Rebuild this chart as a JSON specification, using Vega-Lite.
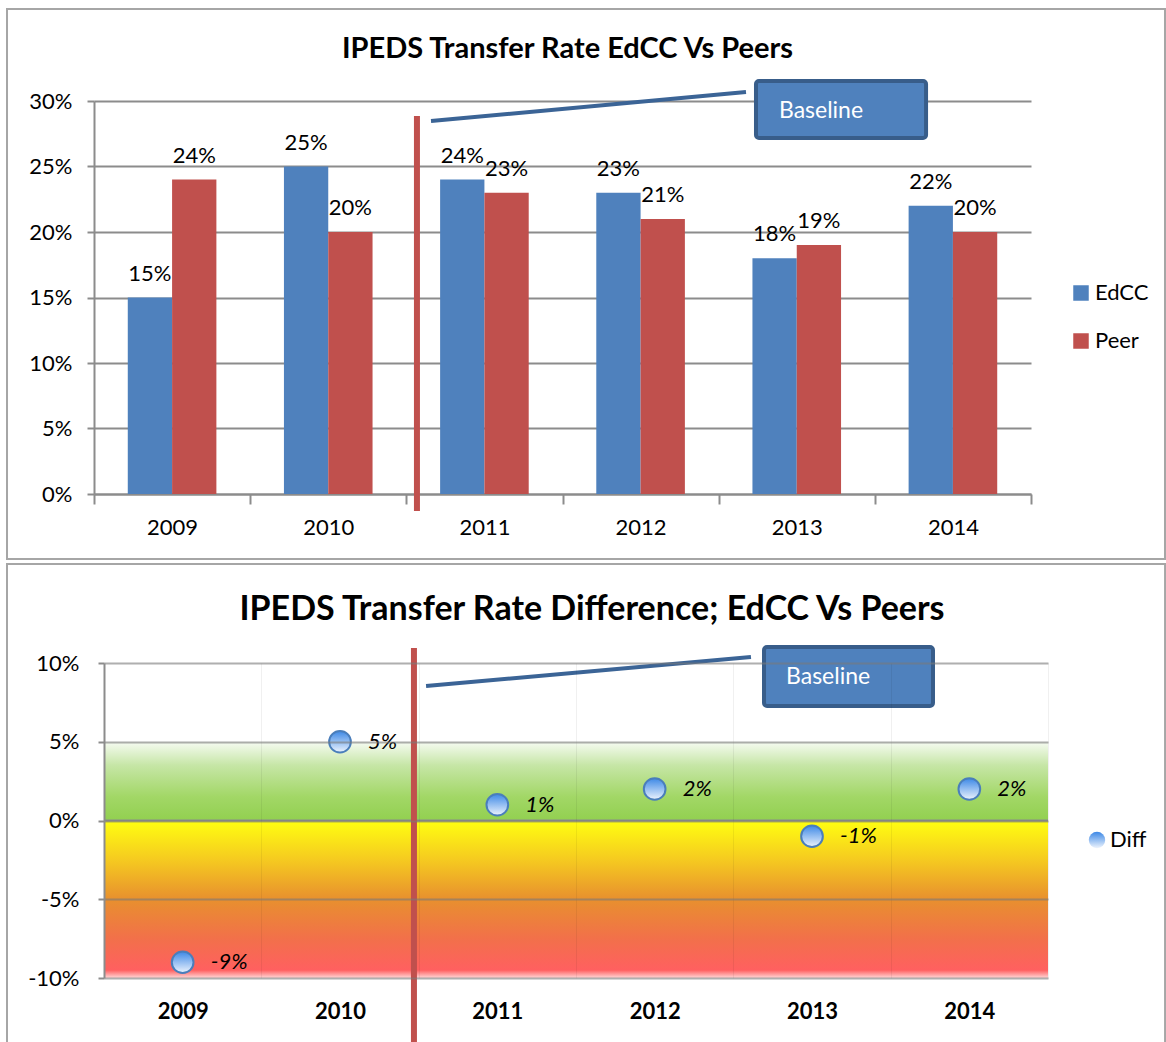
{
  "$schema": "https://vega.github.io/schema/vega-lite/v6.json",
  "padding": {"left": 6, "top": 8, "right": 0, "bottom": 0},
  "background": "white",
  "columns": 1,
  "align": "none",
  "spacing": 2,
  "resolve": {"legend": {"color": "independent", "shape": "independent"}},
  "config": {
    "font": "Lato",
    "locale": {"number": {"decimal": ".", "thousands": ",", "grouping": [3], "currency": ["$", ""], "minus": "-"}},
    "view": {"stroke": null},
    "axis": {"labelColor": "#000000", "labelFont": "Lato"},
    "legend": {"labelColor": "#000000", "labelFont": "Lato"}
  },
  "datasets": {
    "rates": [
      {"year": "2009", "series": "EdCC", "rate": 0.15},
      {"year": "2009", "series": "Peer", "rate": 0.24},
      {"year": "2010", "series": "EdCC", "rate": 0.25},
      {"year": "2010", "series": "Peer", "rate": 0.20},
      {"year": "2011", "series": "EdCC", "rate": 0.24},
      {"year": "2011", "series": "Peer", "rate": 0.23},
      {"year": "2012", "series": "EdCC", "rate": 0.23},
      {"year": "2012", "series": "Peer", "rate": 0.21},
      {"year": "2013", "series": "EdCC", "rate": 0.18},
      {"year": "2013", "series": "Peer", "rate": 0.19},
      {"year": "2014", "series": "EdCC", "rate": 0.22},
      {"year": "2014", "series": "Peer", "rate": 0.20}
    ],
    "diffs": [
      {"year": "2009", "series": "Diff", "diff": -0.09},
      {"year": "2010", "series": "Diff", "diff": 0.05},
      {"year": "2011", "series": "Diff", "diff": 0.01},
      {"year": "2012", "series": "Diff", "diff": 0.02},
      {"year": "2013", "series": "Diff", "diff": -0.01},
      {"year": "2014", "series": "Diff", "diff": 0.02}
    ]
  },
  "concat": [
    {
      "width": 927,
      "height": 393,
      "title": {"text": "IPEDS Transfer Rate EdCC Vs Peers", "fontSize": 29, "fontWeight": "bold", "frame": "group", "anchor": "middle", "baseline": "alphabetic", "offset": -79, "dx": 0, "color": "#000000"},
      "resolve": {"scale": {"x": "independent"}},
      "layer": [
        {
          "data": {"values": [{"x": -0.557, "x2": 6.858, "y": 0.3702, "y2": -0.0496}]},
          "mark": {"type": "rect", "fillOpacity": 0, "stroke": "#a6a6a6", "strokeWidth": 2},
          "encoding": {
            "x": {"field": "x", "type": "quantitative", "scale": {"domain": [0, 6], "range": [-10, 927]}, "axis": null},
            "x2": {"field": "x2"},
            "y": {"field": "y", "type": "quantitative", "title": null},
            "y2": {"field": "y2"}
          }
        },
        {
          "data": {"name": "rates"},
          "mark": {"type": "bar"},
          "encoding": {
            "x": {"field": "year", "type": "nominal", "scale": {"type": "band", "paddingInner": 0, "paddingOuter": 0, "range": [-10, 927]},
              "axis": {"title": null, "labelAngle": 0, "labelFontSize": 22, "domainColor": "#8c8c8c", "domainWidth": 2, "tickColor": "#8c8c8c", "tickWidth": 2, "tickSize": 10, "tickBand": "extent", "labelPadding": 13, "grid": false}},
            "xOffset": {"field": "series", "type": "nominal", "scale": {"domain": ["EdCC", "Peer"], "paddingInner": 0, "paddingOuter": 0.7625}},
            "y": {"field": "rate", "type": "quantitative", "title": null, "scale": {"domain": [0, 0.3], "nice": false},
              "axis": {"format": ".0%", "values": [0, 0.05, 0.1, 0.15, 0.2, 0.25, 0.3], "offset": 10, "labelFontSize": 22, "domainColor": "#8c8c8c", "domainWidth": 2, "tickColor": "#8c8c8c", "tickWidth": 2, "tickSize": 7, "labelPadding": 15, "grid": true, "gridColor": "#8c8c8c", "gridWidth": 2}},
            "color": {"field": "series", "type": "nominal", "scale": {"domain": ["EdCC", "Peer"], "range": ["#4f81bd", "#c0504d"]},
              "legend": {"title": null, "orient": "none", "legendX": 966, "legendY": 181, "padding": 0, "symbolType": "square", "symbolSize": 240, "symbolStrokeWidth": 0, "labelFontSize": 22, "labelOffset": 3, "rowPadding": 26}}
          }
        },
        {
          "data": {"name": "rates"},
          "mark": {"type": "text", "fontSize": 22, "baseline": "alphabetic", "dy": -17, "color": "#000000"},
          "encoding": {
            "x": {"field": "year", "type": "nominal", "scale": {"type": "band", "paddingInner": 0, "paddingOuter": 0, "range": [-10, 927]}, "axis": null},
            "xOffset": {"field": "series", "type": "nominal", "scale": {"domain": ["EdCC", "Peer"], "paddingInner": 0, "paddingOuter": 0.7625}},
            "y": {"field": "rate", "type": "quantitative", "title": null},
            "text": {"field": "rate", "type": "quantitative", "format": ".0%"}
          }
        },
        {
          "data": {"values": [{"x": 2.068, "y": 0.2885, "y2": -0.013}]},
          "mark": {"type": "rule", "color": "#c0504d", "strokeWidth": 6},
          "encoding": {
            "x": {"field": "x", "type": "quantitative", "scale": {"domain": [0, 6], "range": [-10, 927]}, "axis": null},
            "y": {"field": "y", "type": "quantitative", "title": null},
            "y2": {"field": "y2"}
          }
        },
        {
          "data": {"values": [{"x": 2.158, "x2": 4.175, "y": 0.2847, "y2": 0.3069}]},
          "mark": {"type": "rule", "color": "#3b6496", "strokeWidth": 4},
          "encoding": {
            "x": {"field": "x", "type": "quantitative", "scale": {"domain": [0, 6], "range": [-10, 927]}, "axis": null},
            "x2": {"field": "x2"},
            "y": {"field": "y", "type": "quantitative", "title": null},
            "y2": {"field": "y2"}
          }
        },
        {
          "data": {"values": [{"x": 4.239, "x2": 5.328, "y": 0.3153, "y2": 0.2718}]},
          "mark": {"type": "rect", "fill": "#4f81bd", "stroke": "#385d8a", "strokeWidth": 4, "cornerRadius": 3},
          "encoding": {
            "x": {"field": "x", "type": "quantitative", "scale": {"domain": [0, 6], "range": [-10, 927]}, "axis": null},
            "x2": {"field": "x2"},
            "y": {"field": "y", "type": "quantitative", "title": null},
            "y2": {"field": "y2"}
          }
        },
        {
          "data": {"values": [{"x": 4.386, "y": 0.2924, "label": "Baseline"}]},
          "mark": {"type": "text", "fontSize": 23, "color": "#ffffff", "align": "left", "baseline": "middle"},
          "encoding": {
            "x": {"field": "x", "type": "quantitative", "scale": {"domain": [0, 6], "range": [-10, 927]}, "axis": null},
            "y": {"field": "y", "type": "quantitative", "title": null},
            "text": {"field": "label"}
          }
        }
      ]
    },
    {
      "width": 944,
      "height": 315,
      "title": {"text": "IPEDS Transfer Rate Difference; EdCC Vs Peers", "fontSize": 34, "fontWeight": "bold", "frame": "group", "anchor": "middle", "baseline": "alphabetic", "offset": -91, "dx": 16, "color": "#000000"},
      "resolve": {"scale": {"x": "independent"}},
      "layer": [
        {
          "data": {"values": [{"x": -0.6165, "x2": 6.744, "y": 0.1629, "y2": -0.1457}]},
          "mark": {"type": "rect", "fillOpacity": 0, "stroke": "#a6a6a6", "strokeWidth": 2},
          "encoding": {
            "x": {"field": "x", "type": "quantitative", "scale": {"domain": [0, 6]}, "axis": null},
            "x2": {"field": "x2"},
            "y": {"field": "y", "type": "quantitative", "title": null},
            "y2": {"field": "y2"}
          }
        },
        {
          "data": {"values": [{"x": 0, "x2": 6, "y": 0.05, "y2": 0}]},
          "mark": {"type": "rect", "fill": {"gradient": "linear", "x1": 0, "y1": 0, "x2": 0, "y2": 1, "stops": [{"offset": 0, "color": "#f6fbf2"}, {"offset": 0.3, "color": "#c6e6a6"}, {"offset": 0.7, "color": "#a2d766"}, {"offset": 1, "color": "#92d050"}]}},
          "encoding": {
            "x": {"field": "x", "type": "quantitative", "scale": {"domain": [0, 6]}, "axis": null},
            "x2": {"field": "x2"},
            "y": {"field": "y", "type": "quantitative", "title": null},
            "y2": {"field": "y2"}
          }
        },
        {
          "data": {"values": [{"x": 0, "x2": 6, "y": 0, "y2": -0.1}]},
          "mark": {"type": "rect", "fill": {"gradient": "linear", "x1": 0, "y1": 0, "x2": 0, "y2": 1, "stops": [{"offset": 0, "color": "#ffff10"}, {"offset": 0.25, "color": "#f5ca20"}, {"offset": 0.5, "color": "#e8902e"}, {"offset": 0.75, "color": "#f2704a"}, {"offset": 0.95, "color": "#ff6060"}, {"offset": 1, "color": "#ffd8d8"}]}},
          "encoding": {
            "x": {"field": "x", "type": "quantitative", "scale": {"domain": [0, 6]}, "axis": null},
            "x2": {"field": "x2"},
            "y": {"field": "y", "type": "quantitative", "title": null},
            "y2": {"field": "y2"}
          }
        },
        {
          "data": {"values": [{"x": 0, "x2": 6, "y": 0}]},
          "mark": {"type": "rule", "color": "#8c8c8c", "strokeWidth": 2},
          "encoding": {
            "x": {"field": "x", "type": "quantitative", "scale": {"domain": [0, 6]}, "axis": null},
            "x2": {"field": "x2"},
            "y": {"field": "y", "type": "quantitative", "title": null}
          }
        },
        {
          "data": {"name": "diffs"},
          "mark": {"type": "point", "filled": true, "size": 470, "opacity": 1, "stroke": "#4a7ebb", "strokeWidth": 2,
            "fill": {"gradient": "linear", "x1": 0, "y1": 0, "x2": 0, "y2": 1, "stops": [{"offset": 0, "color": "#3c88e6"}, {"offset": 1, "color": "#eef4fd"}]}},
          "encoding": {
            "x": {"field": "year", "type": "nominal", "scale": {"type": "band", "paddingInner": 0, "paddingOuter": 0},
              "axis": {"title": null, "labelAngle": 0, "labelFontSize": 22, "labelFontWeight": "bold", "domain": false, "ticks": false, "tickBand": "extent", "labelPadding": 23, "grid": true, "gridColor": "#000000", "gridOpacity": 0.06, "zindex": 1}},
            "y": {"field": "diff", "type": "quantitative", "title": null, "scale": {"domain": [-0.1, 0.1], "nice": false},
              "axis": {"format": ".0%", "values": [-0.1, -0.05, 0, 0.05, 0.1], "labelFontSize": 22, "domainColor": "#8c8c8c", "domainWidth": 2, "tickColor": "#8c8c8c", "tickWidth": 2, "tickSize": 6, "labelPadding": 19, "grid": true, "gridColor": "#7a7a7a", "gridOpacity": 0.6, "gridWidth": 2, "zindex": 1}},
            "shape": {"field": "series", "type": "nominal", "scale": {"range": ["circle"]},
              "legend": {"title": null, "orient": "none", "legendX": 982, "legendY": 166, "padding": 0, "symbolSize": 270, "symbolFillColor": "#9dc0ee", "symbolStrokeColor": "#4a7ebb", "symbolStrokeWidth": 2, "labelFontSize": 22, "labelOffset": 2}}
          }
        },
        {
          "data": {"name": "diffs"},
          "mark": {"type": "text", "fontSize": 22, "fontStyle": "italic", "align": "left", "baseline": "middle", "dx": 28, "color": "#000000"},
          "encoding": {
            "x": {"field": "year", "type": "nominal", "scale": {"type": "band", "paddingInner": 0, "paddingOuter": 0}, "axis": null},
            "y": {"field": "diff", "type": "quantitative", "title": null},
            "text": {"field": "diff", "type": "quantitative", "format": ".0%"}
          }
        },
        {
          "data": {"values": [{"x": 1.97, "y": 0.1095, "y2": -0.1406}]},
          "mark": {"type": "rule", "color": "#c0504d", "strokeWidth": 6},
          "encoding": {
            "x": {"field": "x", "type": "quantitative", "scale": {"domain": [0, 6]}, "axis": null},
            "y": {"field": "y", "type": "quantitative", "title": null},
            "y2": {"field": "y2"}
          }
        },
        {
          "data": {"values": [{"x": 2.047, "x2": 4.112, "y": 0.0854, "y2": 0.1038}]},
          "mark": {"type": "rule", "color": "#3b6496", "strokeWidth": 4},
          "encoding": {
            "x": {"field": "x", "type": "quantitative", "scale": {"domain": [0, 6]}, "axis": null},
            "x2": {"field": "x2"},
            "y": {"field": "y", "type": "quantitative", "title": null},
            "y2": {"field": "y2"}
          }
        },
        {
          "data": {"values": [{"x": 4.195, "x2": 5.269, "y": 0.1102, "y2": 0.0727}]},
          "mark": {"type": "rect", "fill": "#4f81bd", "stroke": "#385d8a", "strokeWidth": 4, "cornerRadius": 3},
          "encoding": {
            "x": {"field": "x", "type": "quantitative", "scale": {"domain": [0, 6]}, "axis": null},
            "x2": {"field": "x2"},
            "y": {"field": "y", "type": "quantitative", "title": null},
            "y2": {"field": "y2"}
          }
        },
        {
          "data": {"values": [{"x": 4.335, "y": 0.0911, "label": "Baseline"}]},
          "mark": {"type": "text", "fontSize": 23, "color": "#ffffff", "align": "left", "baseline": "middle"},
          "encoding": {
            "x": {"field": "x", "type": "quantitative", "scale": {"domain": [0, 6]}, "axis": null},
            "y": {"field": "y", "type": "quantitative", "title": null},
            "text": {"field": "label"}
          }
        }
      ]
    }
  ]
}
